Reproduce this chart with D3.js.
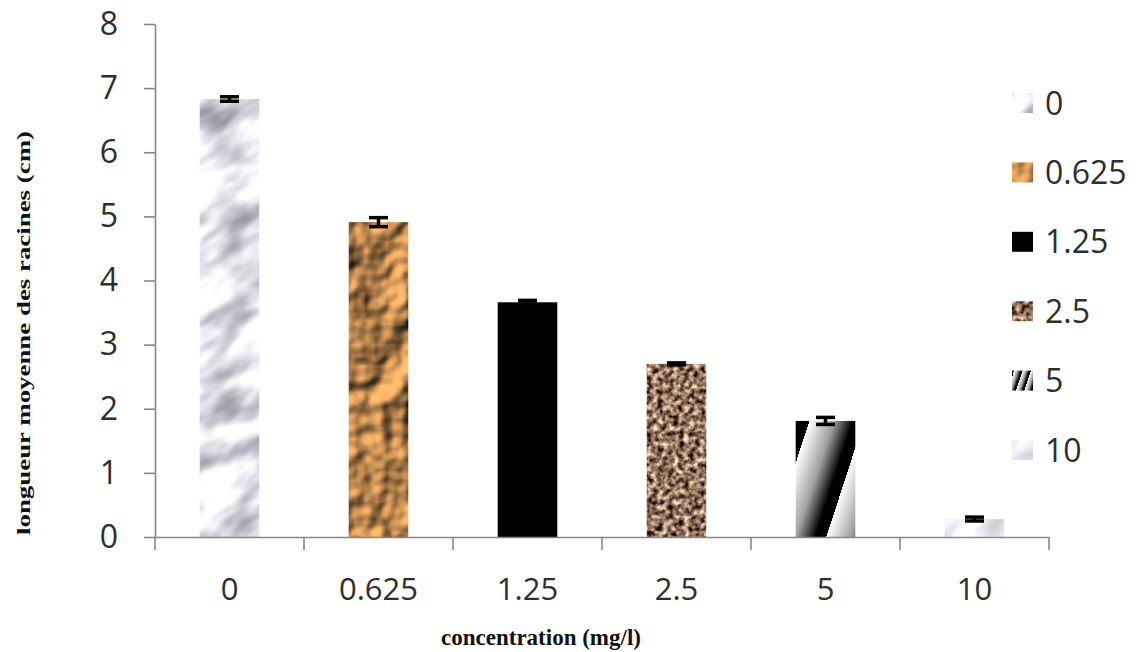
<!DOCTYPE html>
<html>
<head>
<meta charset="utf-8">
<script src="https://cdn.jsdelivr.net/npm/d3@7"></script>
<style>
  html, body { margin: 0; padding: 0; background: #fff; }
  svg { display: block; }
</style>
</head>
<body>
<svg id="chart" width="1138" height="652"></svg>
<script>
// Mean root length (cm) per concentration (mg/l), with standard error
const categories = ["0", "0.625", "1.25", "2.5", "5", "10"];
const meanLength = [6.83, 4.91, 3.66, 2.70, 1.81, 0.28];
const stdError   = [0.035, 0.07, 0.03, 0.015, 0.055, 0.03];
const yTicks = [0, 1, 2, 3, 4, 5, 6, 7, 8];
const legendLabels = ["0", "0.625", "1.25", "2.5", "5", "10"];

const svg = d3.select("#chart");
const defs = svg.append("defs");

const x = d3.scaleBand().domain(categories).range([155, 1049]).padding(0);
const y = d3.scaleLinear().domain([0, 8]).range([537, 24]);
const barW = x.bandwidth() * 0.4;

// ---- textured fills built from noise filters ----
// one large tile so that no seams show inside the plot
function addNoisePattern(id, rotate, build) {
  const size = 2200, origin = -800;
  const f = defs.append("filter").attr("id", id + "-fx")
    .attr("x", 0).attr("y", 0).attr("width", 1).attr("height", 1)
    .attr("color-interpolation-filters", "sRGB");
  build(f);
  const p = defs.append("pattern").attr("id", id)
    .attr("patternUnits", "userSpaceOnUse")
    .attr("x", origin).attr("y", origin)
    .attr("width", size).attr("height", size);
  if (rotate) p.attr("patternTransform", `rotate(${rotate})`);
  p.append("rect").attr("width", size).attr("height", size)
    .attr("fill", "#fff").attr("filter", `url(#${id}-fx)`);
}

// grey marble
addNoisePattern("tex-marble", -35, f => {
  f.append("feTurbulence").attr("type", "fractalNoise")
    .attr("baseFrequency", "0.018 0.045").attr("numOctaves", 3)
    .attr("seed", 4).attr("result", "n");
  f.append("feColorMatrix").attr("in", "n").attr("type", "matrix")
    .attr("values", "0.95 0 0 0 0.42  0.95 0 0 0 0.42  0.9 0 0 0 0.47  0 0 0 0 1")
    .attr("result", "g");
  f.append("feGaussianBlur").attr("in", "g").attr("stdDeviation", 1.2);
});
// pale marble
addNoisePattern("tex-marble-light", -35, f => {
  f.append("feTurbulence").attr("type", "fractalNoise")
    .attr("baseFrequency", "0.02 0.045").attr("numOctaves", 2)
    .attr("seed", 8).attr("result", "n");
  f.append("feColorMatrix").attr("in", "n").attr("type", "matrix")
    .attr("values", "0.6 0 0 0 0.62  0.6 0 0 0 0.62  0.6 0 0 0 0.65  0 0 0 0 1")
    .attr("result", "g");
  f.append("feGaussianBlur").attr("in", "g").attr("stdDeviation", 1.2);
});
// crumpled tan paper
addNoisePattern("tex-paper", 0, f => {
  f.append("feTurbulence").attr("type", "fractalNoise")
    .attr("baseFrequency", "0.024").attr("numOctaves", 3)
    .attr("seed", 9).attr("result", "n");
  const lit = f.append("feDiffuseLighting").attr("in", "n")
    .attr("surfaceScale", 11).attr("diffuseConstant", 1.2)
    .attr("lighting-color", "#eaa862").attr("result", "lit");
  lit.append("feDistantLight").attr("azimuth", 225).attr("elevation", 42);
});
// brown granite speckle
addNoisePattern("tex-granite", 0, f => {
  f.append("feTurbulence").attr("type", "fractalNoise")
    .attr("baseFrequency", "0.19").attr("numOctaves", 3)
    .attr("seed", 2).attr("result", "n");
  f.append("feColorMatrix").attr("in", "n").attr("type", "matrix")
    .attr("values", "1.8 0 0 0 -0.33  1.7 0 0 0 -0.4  1.5 0 0 0 -0.38  0 0 0 0 1");
});

// diagonal shaded stripes (sawtooth gradient)
function addStripes(id, x0, y0, period, startOffset) {
  const ang = 18 * Math.PI / 180;
  const nx = Math.cos(ang), ny = Math.sin(ang);
  const sx = x0 + startOffset * nx, sy = y0 + startOffset * ny;
  const g = defs.append("linearGradient").attr("id", id)
    .attr("gradientUnits", "userSpaceOnUse").attr("spreadMethod", "repeat")
    .attr("x1", sx).attr("y1", sy)
    .attr("x2", sx + period * nx).attr("y2", sy + period * ny);
  [[0, "#ffffff"], [0.45, "#a0a0a0"], [0.8, "#000000"], [1, "#000000"]]
    .forEach(([o, c]) => g.append("stop").attr("offset", o).attr("stop-color", c));
}

const fillFor = {
  "0": "url(#tex-marble)",
  "0.625": "url(#tex-paper)",
  "1.25": "#000",
  "2.5": "url(#tex-granite)",
  "5": "url(#stripes-bar)",
  "10": "url(#tex-marble-light)"
};

const bars = categories.map((c, i) => ({
  cat: c, v: meanLength[i], e: stdError[i],
  x0: x(c) + (x.bandwidth() - barW) / 2
}));
const b5 = bars.find(d => d.cat === "5");
addStripes("stripes-bar", b5.x0, y(b5.v), 52, 13);

// ---- axes ----
const axisColor = "#878787";
const tickFont = "'Open Sans', 'DejaVu Sans', sans-serif";

// bars
svg.append("g").selectAll("rect").data(bars).join("rect")
  .attr("x", d => d.x0)
  .attr("y", d => y(d.v))
  .attr("width", barW)
  .attr("height", d => y(0) - y(d.v))
  .attr("fill", d => fillFor[d.cat]);

// y axis
const yAxis = svg.append("g").attr("transform", `translate(${x.range()[0]},0)`)
  .call(d3.axisLeft(y).tickValues(yTicks).tickFormat(d3.format("d"))
    .tickSize(11).tickSizeOuter(0).tickPadding(26));
yAxis.select(".domain").attr("stroke", axisColor).attr("stroke-width", 1.6);
yAxis.selectAll(".tick line").attr("stroke", axisColor).attr("stroke-width", 1.6);
yAxis.selectAll(".tick text").attr("fill", "#2e2e2e").attr("font-size", 32)
  .attr("font-family", tickFont);

// x axis: labels centred in each band, tick marks on band edges
const xAxis = svg.append("g").attr("transform", `translate(0,${y(0)})`)
  .call(d3.axisBottom(x).tickSize(0).tickSizeOuter(0).tickPadding(41));
xAxis.select(".domain").attr("stroke", axisColor).attr("stroke-width", 1.6);
xAxis.selectAll(".tick text").attr("fill", "#2e2e2e").attr("font-size", 31)
  .attr("font-family", tickFont);
const edges = categories.map(c => x(c)).concat([x.range()[1]]);
xAxis.selectAll("line.edge").data(edges).join("line").attr("class", "edge")
  .attr("x1", d => d).attr("x2", d => d)
  .attr("y1", 0).attr("y2", 13)
  .attr("stroke", axisColor).attr("stroke-width", 1.6);

// error bars
const capW = 19;
const eb = svg.append("g").attr("stroke", "#000").attr("stroke-width", 3.5);
bars.forEach(d => {
  const cx = d.x0 + barW / 2;
  eb.append("line").attr("x1", cx).attr("x2", cx).attr("y1", y(d.v - d.e)).attr("y2", y(d.v + d.e));
  eb.append("line").attr("x1", cx - capW / 2).attr("x2", cx + capW / 2).attr("y1", y(d.v + d.e)).attr("y2", y(d.v + d.e));
  eb.append("line").attr("x1", cx - capW / 2).attr("x2", cx + capW / 2).attr("y1", y(d.v - d.e)).attr("y2", y(d.v - d.e));
});

// legend
const legendX = 1012, legendY0 = 103, legendStep = 69.4;
legendLabels.forEach((lab, i) => {
  const cy = legendY0 + i * legendStep;
  let fill = fillFor[lab];
  if (lab === "5") {
    addStripes("stripes-legend", legendX, cy - 10, 8, 2);
    fill = "url(#stripes-legend)";
  }
  svg.append("rect").attr("x", legendX).attr("y", cy - 10)
    .attr("width", 21).attr("height", 20).attr("fill", fill);
  svg.append("text").attr("x", legendX + 33).attr("y", cy).attr("dy", "0.36em")
    .attr("font-size", 32).attr("font-family", tickFont).attr("fill", "#2e2e2e")
    .text(lab);
});

// axis titles
svg.append("text")
  .attr("transform", "translate(30,333) rotate(-90)")
  .attr("text-anchor", "middle")
  .attr("font-family", "'Liberation Serif', 'Times New Roman', serif")
  .attr("font-weight", "bold").attr("font-size", 19)
  .attr("textLength", 404).attr("lengthAdjust", "spacingAndGlyphs")
  .attr("fill", "#111")
  .text("longueur moyenne des racines (cm)");

svg.append("text")
  .attr("x", 541).attr("y", 645)
  .attr("text-anchor", "middle")
  .attr("font-family", "'Liberation Serif', 'Times New Roman', serif")
  .attr("font-weight", "bold").attr("font-size", 23)
  .attr("fill", "#111")
  .text("concentration (mg/l)");
</script>
</body>
</html>
